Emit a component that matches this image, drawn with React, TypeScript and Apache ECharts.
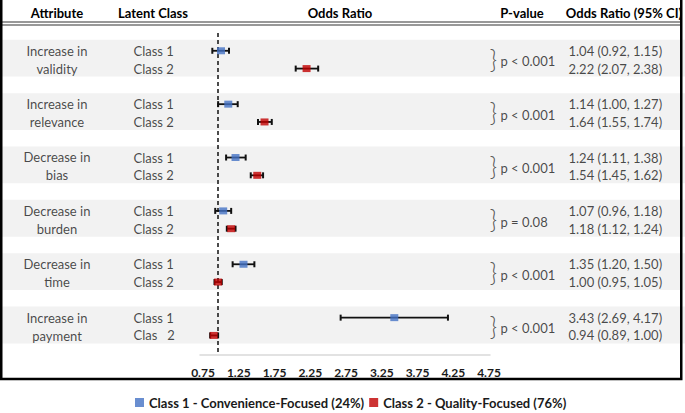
import React, { useEffect, useRef } from "react";
import * as echarts from "echarts";

const attributes = [
  "Increase in\nvalidity",
  "Increase in\nrelevance",
  "Decrease in\nbias",
  "Decrease in\nburden",
  "Decrease in\ntime",
  "Increase in\npayment",
];
const class1Labels = ["Class 1", "Class 1", "Class 1", "Class 1", "Class 1", "Class 1"];
const class2Labels = ["Class 2", "Class 2", "Class 2", "Class 2", "Class 2", "Clas   2"];

const class1OR = [1.04, 1.14, 1.24, 1.07, 1.35, 3.43];
const class1Lo = [0.92, 1.0, 1.11, 0.96, 1.2, 2.69];
const class1Hi = [1.15, 1.27, 1.38, 1.18, 1.5, 4.17];

const class2OR = [2.22, 1.64, 1.54, 1.18, 1.0, 0.94];
const class2Lo = [2.07, 1.55, 1.45, 1.12, 0.95, 0.89];
const class2Hi = [2.38, 1.74, 1.62, 1.24, 1.05, 1.0];

const pValues = ["p < 0.001", "p < 0.001", "p < 0.001", "p = 0.08", "p < 0.001", "p < 0.001"];
const tickLabels = [0.75, 1.25, 1.75, 2.25, 2.75, 3.25, 3.75, 4.25, 4.75];
const headers = ["Attribute", "Latent Class", "Odds Ratio", "P-value", "Odds Ratio (95% CI)"];
const legendNames = ["Class 1 - Convenience-Focused (24%)", "Class 2 - Quality-Focused (76%)"];

const FONT = "Lato";
const TEXT = "#1a1a1a";
const BLUE = "#4472C4";
const RED = "#C00000";

const fmt = (v: number) => v.toFixed(2);

export default function App() {
  const ref = useRef<HTMLDivElement>(null);
  useEffect(() => {
    document.body.style.margin = "0";
    if (!ref.current) return;
    const chart = echarts.init(ref.current, undefined, { renderer: "svg" });

    const yAxisBase = { type: "value", min: -1, max: 17.1, inverse: true, show: false };
    const n = attributes.length;

    const attrData = attributes.map((a, i) => ({ value: [57, 3 * i + 0.5], name: a }));
    const classData: any[] = [];
    const orData: any[] = [];
    for (let i = 0; i < n; i++) {
      classData.push({ value: [133, 3 * i], name: class1Labels[i] });
      classData.push({ value: [133, 3 * i + 1], name: class2Labels[i] });
      orData.push({ value: [568, 3 * i], name: `${fmt(class1OR[i])} (${fmt(class1Lo[i])}, ${fmt(class1Hi[i])})` });
      orData.push({ value: [568, 3 * i + 1], name: `${fmt(class2OR[i])} (${fmt(class2Lo[i])}, ${fmt(class2Hi[i])})` });
    }
    const braceData = pValues.map((p, i) => ({ value: [489, 3 * i + 0.45], name: "}" }));
    const pData = pValues.map((p, i) => ({ value: [500, 3 * i + 0.6], name: p }));

    const errData: number[][] = [];
    for (let i = 0; i < n; i++) {
      errData.push([class1Lo[i], class1Hi[i], 3 * i]);
      errData.push([class2Lo[i], class2Hi[i], 3 * i + 1]);
    }

    const textSeries = (data: any[], pos: string, extra: any = {}) => ({
      type: "scatter",
      xAxisIndex: 0,
      yAxisIndex: 0,
      symbolSize: 1,
      itemStyle: { color: "transparent" },
      silent: true,
      z: 5,
      data,
      label: {
        show: true,
        position: pos,
        distance: 0,
        formatter: "{b}",
        fontFamily: FONT,
        fontSize: 13,
        color: TEXT,
        lineHeight: 18,
        ...extra,
      },
    });

    const option: any = {
      animation: false,
      textStyle: { fontFamily: FONT },
      grid: [
        { left: 0, width: 685, top: 33, height: 322 },
        { left: 200, width: 290, top: 33, height: 322 },
        { left: 203, width: 286, top: 360, height: 1 },
      ],
      xAxis: [
        { type: "value", gridIndex: 0, min: 0, max: 685, show: false },
        {
          type: "value",
          gridIndex: 1,
          min: 0.75,
          max: 4.75,
          axisLine: { show: true, onZero: false, lineStyle: { color: "#d9d9d9", width: 1.5 } },
          axisTick: { show: false },
          axisLabel: { show: false },
          splitLine: { show: false },
        },
        {
          type: "value",
          gridIndex: 2,
          min: 0.75,
          max: 4.75,
          axisLine: { show: false },
          axisTick: { show: false },
          splitLine: { show: false },
          axisLabel: {
            show: true,
            customValues: tickLabels,
            formatter: (v: number) => fmt(v),
            margin: 5,
            fontFamily: FONT,
            fontSize: 12,
            fontWeight: "bold",
            color: TEXT,
          },
        },
      ],
      yAxis: [
        { ...yAxisBase, gridIndex: 0 },
        { ...yAxisBase, gridIndex: 1 },
        { type: "value", gridIndex: 2, show: false },
      ],
      legend: {
        left: 135,
        top: 396,
        padding: 0,
        itemWidth: 9,
        itemHeight: 9,
        itemGap: 5,
        icon: "rect",
        data: legendNames,
        textStyle: { fontFamily: FONT, fontSize: 13, fontWeight: "bold", color: TEXT },
      },
      graphic: [
        ...headers.map((h, i) => ({
          type: "text",
          x: [57, 153, 340, 522, 624][i],
          y: 13,
          z: 10,
          style: {
            text: h,
            font: `bold 13px ${FONT}`,
            fill: "#000",
            align: "center",
            verticalAlign: "middle",
            textAlign: "center",
            textVerticalAlign: "middle",
          },
        })),
        { type: "line", z: 10, shape: { x1: 0, y1: 22, x2: 681, y2: 22 }, style: { stroke: "#333", lineWidth: 1.2 } },
        { type: "line", z: 10, shape: { x1: 0, y1: 25, x2: 681, y2: 25 }, style: { stroke: "#333", lineWidth: 1.2 } },
        {
          type: "rect",
          z: 20,
          shape: { x: 1.25, y: -5, width: 680, height: 384 },
          style: { fill: "none", stroke: "#000", lineWidth: 2.5 },
        },
      ],
      series: [
        {
          type: "line",
          xAxisIndex: 0,
          yAxisIndex: 0,
          data: [],
          silent: true,
          z: 0,
          markArea: {
            silent: true,
            itemStyle: { color: "#f2f2f2" },
            data: attributes.map((_, i) => [{ yAxis: 3 * i - 0.62 }, { yAxis: 3 * i + 1.45 }]),
          },
        },
        textSeries(attrData, "inside", { align: "center", verticalAlign: "middle" }),
        textSeries(classData, "right"),
        textSeries(orData, "right"),
        textSeries(pData, "right"),
        textSeries(braceData, "right", { fontSize: 26, fontWeight: 300, color: "#333" }),
        {
          type: "custom",
          xAxisIndex: 1,
          yAxisIndex: 1,
          z: 3,
          silent: true,
          data: errData,
          renderItem: (params: any, api: any) => {
            const p1 = api.coord([api.value(0), api.value(2)]);
            const p2 = api.coord([api.value(1), api.value(2)]);
            const h = 3;
            const st = { stroke: "#111", lineWidth: 1.8 };
            return {
              type: "group",
              children: [
                { type: "line", shape: { x1: p1[0], y1: p1[1], x2: p2[0], y2: p2[1] }, style: st },
                { type: "line", shape: { x1: p1[0], y1: p1[1] - h, x2: p1[0], y2: p1[1] + h }, style: { ...st, lineWidth: 2 } },
                { type: "line", shape: { x1: p2[0], y1: p2[1] - h, x2: p2[0], y2: p2[1] + h }, style: { ...st, lineWidth: 2 } },
              ],
            };
          },
          markLine: {
            silent: true,
            symbol: "none",
            label: { show: false },
            lineStyle: { color: "#111", type: [4, 3], width: 1.5 },
            data: [{ xAxis: 1 }],
          },
        },
        {
          name: legendNames[0],
          type: "scatter",
          xAxisIndex: 1,
          yAxisIndex: 1,
          symbol: "rect",
          symbolSize: [8, 7],
          itemStyle: { color: BLUE },
          z: 6,
          data: class1OR.map((v, i) => [v, 3 * i]),
        },
        {
          name: legendNames[1],
          type: "scatter",
          xAxisIndex: 1,
          yAxisIndex: 1,
          symbol: "rect",
          symbolSize: [8, 7],
          itemStyle: { color: RED },
          z: 6,
          data: class2OR.map((v, i) => [v, 3 * i + 1]),
        },
      ],
    };
    chart.setOption(option);
    return () => chart.dispose();
  }, []);
  return (
    <div
      ref={ref}
      style={{ width: 685, height: 413, position: "absolute", left: 0, top: 0, background: "#fff" }}
    />
  );
}
